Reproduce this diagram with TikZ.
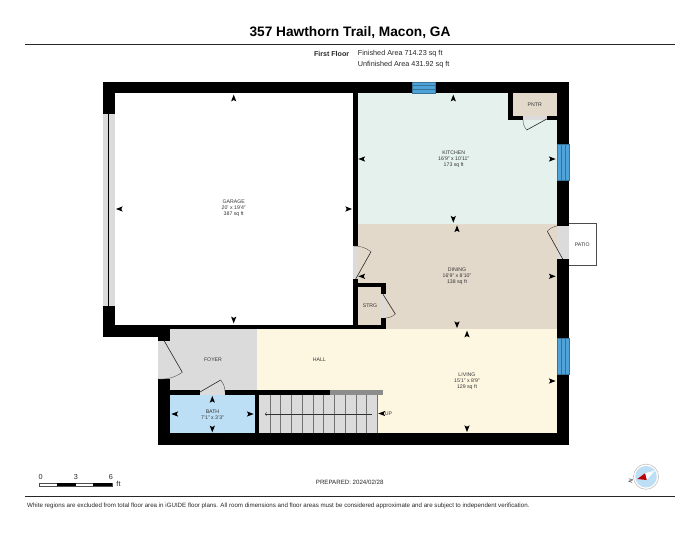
\documentclass[tikz,border=0pt]{standalone}
\usepackage{fontspec}
\setmainfont{Liberation Sans}
\begin{document}
\begin{tikzpicture}[x=1pt,y=-1pt]
	\tikzset{wall/.style = {fill=black}}
	\tikzset{gap/.style = {fill=black!14}}
	\tikzset{glass/.style = {fill=winblue,draw=winblue!70!black,line width=.3pt}}
	\tikzset{leaf/.style = {draw=black!85,line width=.6pt}}
	\tikzset{swing/.style = {draw=black!70,line width=.4pt}}
	\tikzset{room/.style = {inner sep=0,align=center,text=black!80,font=\fontsize{5.2}{5.8}\selectfont}}
	\tikzset{info/.style = {inner sep=0,text=black!85,font=\fontsize{7.25}{8}\selectfont}}
	\definecolor{kitchencol}{HTML}{E4F1EC}
	\definecolor{diningcol}{HTML}{E3D9CB}
	\definecolor{livingcol}{HTML}{FDF7E1}
	\definecolor{bathcol}{HTML}{BCDFF5}
	\definecolor{winblue}{HTML}{4FA3D8}
	\useasboundingbox (0,0) rectangle (700,541);
	% room floors
	\fill[kitchencol] (357,93) rectangle (557,224);
	\fill[diningcol] (357,224) rectangle (557,329);
	\fill[diningcol] (512,93) rectangle (557,116);
	\fill[livingcol] (256.7,329) rectangle (557,433);
	\fill[gap] (170,329) rectangle (256.7,390);
	\fill[bathcol] (170,395) rectangle (255,433);
	\fill[diningcol] (358,287) rectangle (381.5,325);
	\fill[gap] (259,395) rectangle (377.7,433);
	% gaps in the walls
	\fill[gap] (102.5,114) rectangle (114.7,306);
	\fill[gap] (353,246) rectangle (357.7,279);
	\fill[gap] (381.3,294.3) rectangle (385.7,318);
	\fill[gap] (523,115.7) rectangle (546.7,120.3);
	\fill[gap] (557,226) rectangle (568.7,259);
	\fill[gap] (157.7,341) rectangle (170,379);
	\fill[gap] (200,390) rectangle (225,395);
	% walls
	\fill[wall] (102.5,81.7) rectangle (568.7,93);
	\fill[wall] (102.5,81.7) rectangle (114.7,114);
	\fill[wall] (108,114) rectangle (109.3,306);
	\fill[wall] (102.5,306) rectangle (114.7,336.7);
	\fill[wall] (102.5,325) rectangle (170,336.7);
	\fill[wall] (114,324.7) rectangle (385.7,329);
	\fill[wall] (353,93) rectangle (357.7,246);
	\fill[wall] (353,279) rectangle (357.7,329);
	\fill[wall] (353,283.3) rectangle (385.7,287.3);
	\fill[wall] (381.3,283.3) rectangle (385.7,294.3);
	\fill[wall] (381.3,318) rectangle (385.7,329);
	\fill[wall] (508,93) rectangle (512.7,120.3);
	\fill[wall] (508,115.7) rectangle (523,120.3);
	\fill[wall] (546.7,115.7) rectangle (557,120.3);
	\fill[wall] (557,81.7) rectangle (568.7,226);
	\fill[wall] (557,259) rectangle (568.7,445);
	\fill[wall] (157.7,433) rectangle (568.7,445);
	\fill[wall] (157.7,379) rectangle (170,445);
	\fill[wall] (157.7,336) rectangle (170,341);
	\fill[wall] (170,390) rectangle (200,395);
	\fill[wall] (225,390) rectangle (330,395);
	\fill[wall] (254.7,395) rectangle (259.3,433);
	\fill[black!45] (330,390) rectangle (382.7,395);
	% windows
	\foreach \yy in {0,1,2} \draw[glass] (412,81.7+\yy*3.77) rectangle (434.7,81.7+\yy*3.77+3.77);
	\foreach \xx in {0,1,2} \draw[glass] (557+\xx*3.9,144) rectangle (557+\xx*3.9+3.9,180.3);
	\foreach \xx in {0,1,2} \draw[glass] (557+\xx*3.9,338) rectangle (557+\xx*3.9+3.9,374);
	% patio
	\draw[black!70,line width=.5pt] (568.7,223.7) -- (596.3,223.7) -- (596.3,265) -- (568.7,265);
	% doors
	\draw[leaf] (546.7,119) -- (526.7,130);
	\draw[swing] (526.7,130) to[bend left=18] (523,120);
	\draw[leaf] (562.7,259) -- (547.3,231.3);
	\draw[swing] (547.3,231.3) to[bend left=18] (557,226);
	\draw[leaf] (355.7,279) -- (371,251.7);
	\draw[swing] (371,251.7) to[bend right=18] (353.5,246);
	\draw[leaf] (383,294.3) -- (395.3,314);
	\draw[swing] (395.3,314) to[bend left=18] (385.7,318);
	\draw[leaf] (164.3,341) -- (182.3,372.3);
	\draw[swing] (182.3,372.3) to[bend left=18] (157.7,379);
	\draw[leaf] (200,392) -- (220.7,380);
	\draw[swing] (220.7,380) to[bend left=18] (225,392);
	% stairs
	\foreach \xx in {270,280.7,291.7,302.3,313,323.7,334.3,345,356,366.7,377.3}
		\draw[draw=black!55,line width=.5pt] (\xx,395) -- (\xx,433);
	\coordinate (stairtop) at (371.7,414);
	\coordinate (stairend) at (265,414);
	\draw[draw=black!80,line width=.4pt,->] (stairtop) -- (stairend);
	% dimension marks
	\foreach \xx/\yy/\aa in {233.7/98/0,119.3/209/90,348.7/209/-90,233.7/320/180,
		453.3/98/0,361.7/159/90,552.3/159/-90,453.3/219.3/180,
		457/228.7/0,361.7/276.3/90,552.3/276.3/-90,457/324.7/180,
		467/334/0,552.3/381/-90,467/428.7/180,
		212.3/399.3/0,174.7/414/90,250.3/414/-90,212.3/429/180,381.7/413.5/90}
		\fill[black,shift={(\xx,\yy)},rotate=\aa] (0,-3.4) -- (2.6,3.4) -- (0,2) -- (-2.6,3.4) -- cycle;
	% room labels
	\node[room] (garage) at (233.7,208.5) {GARAGE\\20' x 19'4"\\387 sq ft};
	\node[room] (kitchen) at (453.7,159) {KITCHEN\\16'9" x 10'11"\\173 sq ft};
	\node[room] (dining) at (457,276.5) {DINING\\16'9" x 8'10"\\138 sq ft};
	\node[room] (living) at (467,381) {LIVING\\15'1" x 8'9"\\129 sq ft};
	\node[room] (bath) at (212.5,414.5) {BATH\\7'1" x 3'3"};
	\node[room] (pntr) at (534.7,104.5) {PNTR};
	\node[room] (patio) at (582.3,244.5) {PATIO};
	\node[room] (strg) at (370,306) {STRG};
	\node[room] (foyer) at (213,359.5) {FOYER};
	\node[room] (hall) at (319.3,359.5) {HALL};
	\node[room] (up) at (388.5,414) {UP};
	% header
	\node[inner sep=0,font=\bfseries\fontsize{13.7}{15}\selectfont] (title) at (350,33) {357 Hawthorn Trail, Macon, GA};
	\draw[line width=1pt,draw=black!85] (25,44.7) -- (675,44.7);
	\node[info,anchor=east,font=\bfseries\fontsize{7.1}{8}\selectfont] (floor) at (349.3,54) {First Floor};
	\node[info,anchor=west] (finished) at (357.7,54) {Finished Area 714.23 sq ft};
	\node[info,anchor=west] (unfinished) at (357.7,65) {Unfinished Area 431.92 sq ft};
	% scale bar
	\draw[draw=black!70,line width=.4pt,fill=white] (39.5,482.7) rectangle (111.7,486);
	\fill[black] (57,482.7) rectangle (75.5,486);
	\fill[black] (93,482.7) rectangle (111.7,486);
	\node[info] (zero) at (40.7,476.5) {0};
	\node[info] (three) at (76,476.5) {3};
	\node[info] (six) at (111,476.5) {6};
	\node[info] (feet) at (118.5,484.3) {ft};
	\node[info,font=\fontsize{6.15}{8}\selectfont] (prepared) at (349.7,482.5) {PREPARED: 2024/02/28};
	% compass
	\draw[draw=red!15!black!25,line width=.6pt,fill=white] (646,476.7) circle (12.6);
	\fill[bathcol] (646,476.7) circle (10.8);
	\fill[white] (645,473.3) -- (655,470.5) -- (646.7,480) -- cycle;
	\fill[red!75!black] (637.3,479) -- (645,473.3) -- (646.7,480) -- cycle;
	\node[inner sep=0,rotate=75,font=\fontsize{5.5}{6}\selectfont] (north) at (630.7,481) {N};
	% footer
	\draw[line width=1pt,draw=black!85] (25,496.7) -- (675,496.7);
	\node[info,anchor=west,font=\fontsize{6.17}{7}\selectfont] (note) at (27,505.7) {White regions are excluded from total floor area in iGUIDE floor plans. All room dimensions and floor areas must be considered approximate and are subject to independent verification.};
\end{tikzpicture}
\end{document}
